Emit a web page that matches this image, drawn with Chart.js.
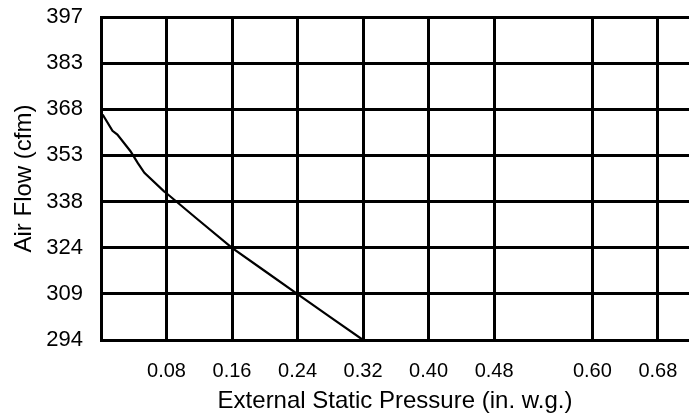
<!DOCTYPE html>
<html>
<head>
<meta charset="utf-8">
<script src="https://cdn.jsdelivr.net/npm/chart.js@4"></script>
<style>
  html, body { margin: 0; padding: 0; background: #fff; }
  #wrap { width: 689px; height: 419px; position: relative; }
</style>
</head>
<body>
<div id="wrap"><canvas id="c" width="689" height="419"></canvas></div>
<script>
// Data
const pressure = [0.002, 0.014, 0.020, 0.036, 0.045, 0.053, 0.077, 0.08, 0.116, 0.16, 0.20, 0.24, 0.28, 0.32];
const airFlow  = [365.9, 360.7, 359.5, 354.2, 350.4, 347.3, 341.4, 340.8, 332.9, 323.4, 316.0, 308.6, 301.3, 294.0];

const xTicks = [0.08, 0.16, 0.24, 0.32, 0.40, 0.48, 0.60, 0.68];
const yTickLabels = ['294', '309', '324', '338', '353', '368', '383', '397'];
const yMin = 294, yMax = 397;
const xMin = 0, xMax = 0.718;

const points = pressure.map((p, i) => ({ x: p, y: airFlow[i] }));
const fam = '"Liberation Sans", Arial, sans-serif';

new Chart(document.getElementById('c'), {
  type: 'scatter',
  data: {
    datasets: [{
      data: points,
      showLine: true,
      borderColor: '#000',
      borderWidth: 2.2,
      pointRadius: 0,
      tension: 0,
      fill: false
    }]
  },
  options: {
    responsive: false,
    animation: false,
    devicePixelRatio: 1,
    layout: { padding: { top: 0, right: 0, left: 0, bottom: 0 } },
    plugins: { legend: { display: false }, tooltip: { enabled: false } },
    scales: {
      x: {
        type: 'linear',
        min: xMin, max: xMax,
        afterBuildTicks: (s) => { s.ticks = xTicks.map(v => ({ value: v })); },
        afterFit: (s) => { s.height = 79; s.paddingLeft = 0; s.paddingRight = 0; },
        ticks: {
          color: '#000', font: { family: fam, size: 20 }, padding: 19, maxRotation: 0,
          callback: (v) => v.toFixed(2)
        },
        grid: { color: '#000', lineWidth: 3, drawTicks: false },
        border: { color: '#000', width: 3 },
        title: { display: true, text: 'External Static Pressure (in. w.g.)', color: '#000', font: { family: fam, size: 24 }, padding: { top: 0, bottom: 3 } }
      },
      y: {
        type: 'linear',
        min: yMin, max: yMax,
        afterBuildTicks: (s) => {
          const n = yTickLabels.length - 1;
          s.ticks = yTickLabels.map((_, i) => ({ value: yMin + i * (yMax - yMin) / n }));
        },
        afterFit: (s) => { s.width = 101; s.paddingTop = 17; s.paddingBottom = 0; },
        ticks: {
          color: '#000', font: { family: fam, size: 22 }, padding: 18,
          callback: (v, i) => yTickLabels[i]
        },
        grid: { color: '#000', lineWidth: 3, drawTicks: false },
        border: { color: '#000', width: 3 },
        title: { display: true, text: 'Air Flow (cfm)', color: '#000', font: { family: fam, size: 24 }, padding: { top: 10, bottom: 0 } }
      }
    }
  }
});
</script>
</body>
</html>
